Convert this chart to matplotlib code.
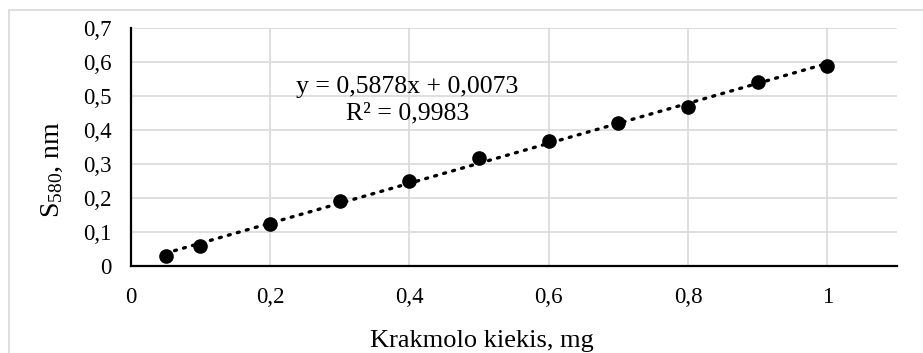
import numpy as np
import matplotlib.pyplot as plt
from matplotlib.patches import Rectangle

plt.rcParams["font.family"] = ["Liberation Serif", "DejaVu Serif"]
plt.rcParams["mathtext.fontset"] = "custom"
plt.rcParams["mathtext.rm"] = "Liberation Serif"
plt.rcParams["mathtext.it"] = "Liberation Serif:italic"

# data
x = [0.05, 0.1, 0.2, 0.3, 0.4, 0.5, 0.6, 0.7, 0.8, 0.9, 1.0]
y = [0.029, 0.059, 0.123, 0.190, 0.250, 0.316, 0.366, 0.421, 0.468, 0.539, 0.587]
slope, intercept = 0.5878, 0.0073
xticks = [0, 0.2, 0.4, 0.6, 0.8, 1.0]
xticklabels = ["0", "0,2", "0,4", "0,6", "0,8", "1"]
yticks = [0, 0.1, 0.2, 0.3, 0.4, 0.5, 0.6, 0.7]
yticklabels = ["0", "0,1", "0,2", "0,3", "0,4", "0,5", "0,6", "0,7"]

fig = plt.figure(figsize=(9.23, 3.53), dpi=100)
ax = fig.add_axes([0.1416, 0.2473, 0.8302, 0.6742])

# chart area border (runs off the image to the right and bottom)
fig.patches.append(Rectangle((0.00975, -0.1), 1.2, 1.0717, transform=fig.transFigure,
                             fill=False, edgecolor="#d9d9d9", lw=1.2, zorder=0))

ax.set_xlim(0, 1.1)
ax.set_ylim(0, 0.7)
ax.set_xticks(xticks)
ax.set_xticklabels(xticklabels)
ax.set_yticks(yticks)
ax.set_yticklabels(yticklabels)
ax.grid(True, color="#d9d9d9", lw=1.2)
ax.set_axisbelow(True)
ax.tick_params(length=0, labelsize=16.5)
ax.tick_params(axis="x", pad=15)
ax.tick_params(axis="y", pad=14)
for s in ["top", "right"]:
    ax.spines[s].set_visible(False)
for s in ["left", "bottom"]:
    ax.spines[s].set_linewidth(1.6)
    ax.spines[s].set_color("black")

fx = np.array([x[0], x[-1]])
ax.plot(fx, slope * fx + intercept, color="black", lw=2.4,
        linestyle=(0, (0.6, 2.2)), dash_capstyle="round", zorder=2)
ax.plot(x, y, "o", color="black", markersize=9.5, zorder=3)

ax.text(0.397, 0.487, "y = 0,5878x + 0,0073\nR² = 0,9983", ha="center", va="center",
        fontsize=18.5, linespacing=1.3)

ax.text(0.4585, -0.3416, "Krakmolo kiekis, mg", transform=ax.transAxes,
        ha="center", va="baseline", fontsize=19)
ax.text(-0.1027, 0.402, r"S$_{\mathregular{580}}$, nm", transform=ax.transAxes,
        ha="center", va="center", rotation=90, fontsize=20)

fig.savefig("out.png", dpi=100)
